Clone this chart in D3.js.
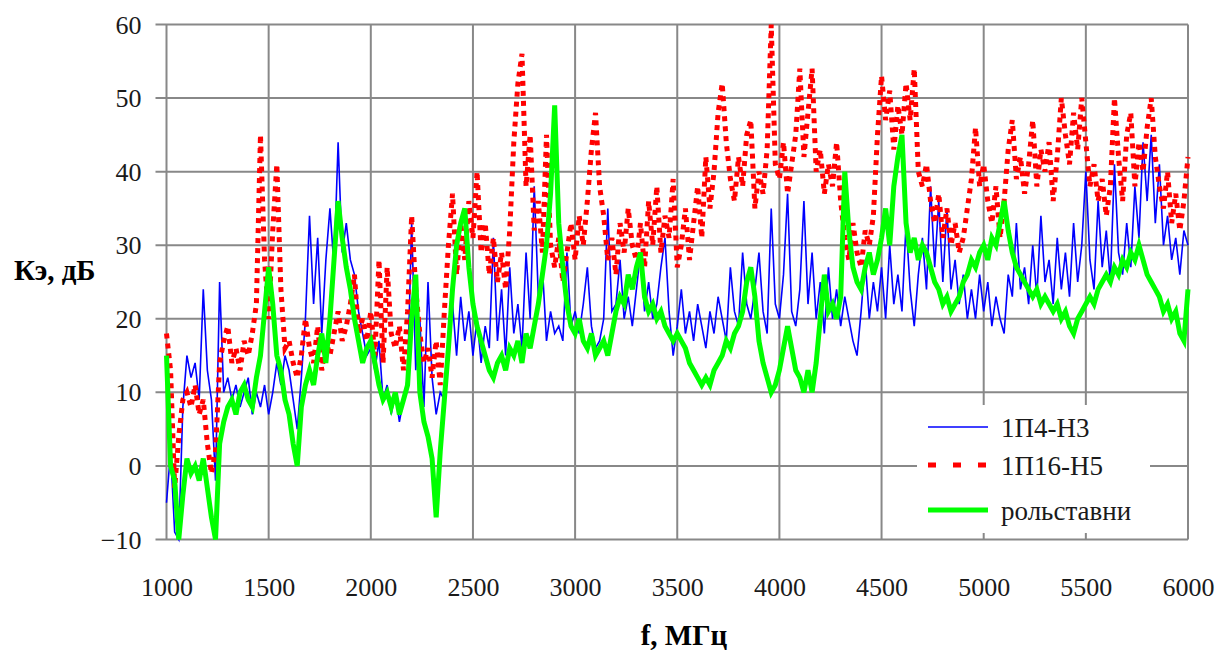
<!DOCTYPE html>
<meta charset="utf-8">
<style>
  body { margin: 0; padding: 0; background: #fff; }
  text { font-family: "Liberation Serif", "Times New Roman", serif; }
  .tick text { font-size: 26px; fill: #1a1a1a; }
  .axis-title { font-size: 29px; font-weight: bold; fill: #000; }
  .legend text { font-size: 27px; fill: #1a1a1a; }
</style>
<script src="https://d3js.org/d3.v7.min.js"></script>
<body>
<div id="chart"></div>
<script>
// frequency grid, MHz (20 MHz step)
var freqs = d3.range(1000, 6001, 20);
var xTicks = [1000, 1500, 2000, 2500, 3000, 3500, 4000, 4500, 5000, 5500, 6000];
var yTicks = [-10, 0, 10, 20, 30, 40, 50, 60];
var names = ["1П4-Н3", "1П16-Н5", "рольставни"];

// Кэ, дБ — 1П4-Н3
var blue = [
  -5, 2, -9, -10, 8,
  15, 12, 14, 9, 24,
  13, 9, -2, 25, 10,
  12, 9, 11, 8, 10,
  12, 7, 10, 8, 11,
  7, 10, 14, 11, 15,
  13, 9, 5, 12, 20,
  34, 22, 31, 18, 28,
  35, 27, 44, 29, 33,
  28, 26, 21, 18, 15,
  16, 13, 17, 9, 11,
  7, 10, 6, 9, 12,
  33, 13, 20, 8, 25,
  12, 7, 10, 9, 18,
  22, 15, 23, 17, 21,
  15, 20, 14, 19, 16,
  31, 17, 24, 15, 27,
  18, 22, 16, 29, 20,
  38, 23, 27, 17, 21,
  18, 19, 17, 29, 19,
  21, 18, 22, 27, 19,
  16, 17, 20, 35, 21,
  22, 28, 20, 23, 19,
  24, 29, 21, 25, 20,
  22, 27, 31, 21, 15,
  19, 24, 18, 21, 17,
  22, 19, 16, 21, 18,
  23, 20, 17, 27, 21,
  19, 29, 22, 20, 24,
  29, 21, 18, 35, 22,
  20, 26, 37, 21, 19,
  24, 36, 22, 29, 20,
  25, 18, 27, 20, 24,
  19, 23, 20, 17, 15,
  21, 28, 20, 25, 21,
  27, 20, 30, 22, 26,
  21, 33, 24, 19, 26,
  31, 24, 38, 27, 36,
  25, 35, 24, 28, 22,
  26, 20, 24, 20, 26,
  21, 25, 19, 23, 20,
  18, 26, 23, 33, 24,
  27, 22, 30, 23, 34,
  25, 28, 22, 31, 24,
  29, 23, 33, 25, 30,
  40, 28, 24, 36, 27,
  32, 25, 41, 29, 26,
  33, 27, 38, 31, 44,
  36, 45, 33, 41, 30,
  34, 28, 31, 26, 32,
  30
];

// Кэ, дБ — 1П16-Н5
var red = [
  18, 13, -3, 4, 9,
  10, 8, 11, 7, 9,
  3, -1, 2, 14, 17,
  19, 14, 16, 13, 17,
  15, 18, 22, 45, 28,
  20, 32, 41, 24, 16,
  17, 14, 12, 15, 20,
  16, 14, 19, 13, 17,
  15, 18, 21, 17, 19,
  22, 26, 18, 20, 17,
  21, 15, 28, 14, 27,
  18, 16, 19, 13, 21,
  34, 24, 18, 14, 16,
  12, 17, 11, 21, 30,
  37, 26, 33, 28, 36,
  31, 40, 29, 33, 26,
  31, 25, 29, 24, 32,
  44, 52, 56, 38, 45,
  32, 36, 29, 45, 30,
  27, 31, 25, 29, 33,
  28, 34, 30, 36, 43,
  48, 38, 34, 28, 31,
  26, 33, 29, 35, 30,
  28, 33, 27, 36, 30,
  38, 29, 34, 31, 39,
  27, 30, 35, 28, 33,
  38, 31, 42, 35, 40,
  48, 52, 44, 39, 36,
  42, 38, 45, 47, 35,
  40, 37, 43, 60, 41,
  39, 44, 37, 41, 45,
  54, 42, 48, 54, 40,
  43, 37, 41, 38, 44,
  36, 31, 28, 33, 29,
  27, 32, 30, 34, 45,
  53, 47, 51, 43, 49,
  45, 52, 47, 54, 40,
  38, 41, 36, 33, 37,
  31, 35, 30, 33, 29,
  31, 35, 39, 46, 38,
  41, 36, 33, 38, 31,
  36, 43, 47, 39, 42,
  37, 41, 47, 38, 43,
  40, 44, 36, 42, 50,
  45, 41, 48, 43, 50,
  44, 38, 41, 36, 39,
  34, 38, 50, 42, 36,
  45, 48, 38, 44, 40,
  46, 50, 42, 38, 35,
  40, 33, 37, 32, 36,
  42
];

// Кэ, дБ — рольставни
var green = [
  15, 0, -2, -10, -4,
  1, -1, 0, -2, 1,
  -3, -7, -10, 3, 6,
  8, 9, 7, 10, 11,
  9, 8, 12, 15, 21,
  27, 22, 15, 13, 9,
  7, 3, 0, 8, 11,
  13, 11, 15, 18, 14,
  20, 28, 36, 31, 27,
  24, 20, 17, 14, 16,
  17, 14, 11, 9, 10,
  8, 10, 7, 9, 11,
  20, 26, 10, 6, 4,
  1, -7, 2, 9, 16,
  24, 30, 33, 35, 27,
  22, 19, 17, 15, 13,
  12, 14, 15, 13, 16,
  15, 17, 14, 18, 16,
  19, 22, 26, 30, 37,
  49, 33, 27, 22, 19,
  18, 20, 17, 16, 18,
  15, 16, 17, 15, 18,
  21, 23, 22, 26, 24,
  27, 29, 23, 21, 22,
  20, 21, 19, 18, 17,
  18, 17, 16, 14, 13,
  12, 11, 12, 11, 13,
  14, 15, 17, 16, 18,
  19, 21, 25, 27, 23,
  17, 14, 12, 10, 11,
  13, 16, 19, 16, 13,
  12, 10, 13, 10, 14,
  20, 26, 21, 22, 20,
  23, 40, 32, 27, 25,
  24, 27, 29, 26, 28,
  31, 35, 30, 38, 42,
  45, 33, 29, 31, 28,
  30, 29, 27, 25, 24,
  22, 23, 21, 22, 23,
  25, 26, 28, 27, 29,
  30, 28, 31, 30, 33,
  36, 32, 29, 27, 26,
  25, 24, 23, 24, 22,
  23, 22, 21, 22, 20,
  21, 19, 18, 20, 21,
  22, 23, 22, 24, 25,
  26, 25, 27, 26, 28,
  27, 29, 28, 30, 28,
  26, 25, 24, 23, 21,
  22, 20, 21, 18, 17,
  24
];

var W = 1218, H = 650;
var x0 = 166.5, x1 = 1188, y0 = 539.5, y1 = 24.5;

var svg = d3.select("#chart").append("svg")
    .attr("width", W)
    .attr("height", H);

var x = d3.scaleLinear().domain([1000, 6000]).range([x0, x1]);
var y = d3.scaleLinear().domain([-10, 60]).range([y0, y1]);

var gridColor = "#888888";

// horizontal grid (with small tick to the left)
svg.append("g").selectAll("line")
  .data(yTicks)
  .enter().append("line")
    .attr("x1", x0 - 11)
    .attr("x2", x1)
    .attr("y1", function(d) { return y(d); })
    .attr("y2", function(d) { return y(d); })
    .attr("stroke", gridColor)
    .attr("stroke-width", 2);

// vertical grid
svg.append("g").selectAll("line")
  .data(xTicks)
  .enter().append("line")
    .attr("x1", function(d) { return x(d); })
    .attr("x2", function(d) { return x(d); })
    .attr("y1", y1)
    .attr("y2", y0)
    .attr("stroke", gridColor)
    .attr("stroke-width", 2);

// axes (labels only)
var yAxis = svg.append("g")
    .attr("transform", "translate(" + (x0 - 22) + ",0)")
    .call(d3.axisLeft(y).tickValues(yTicks).tickSize(0).tickFormat(d3.format("d")));
yAxis.select(".domain").remove();
yAxis.selectAll("text").attr("dy", "0.33em");

var xAxis = svg.append("g")
    .attr("transform", "translate(0," + (y0 + 35) + ")")
    .call(d3.axisBottom(x).tickValues(xTicks).tickSize(0).tickFormat(d3.format("d")));
xAxis.select(".domain").remove();

// series
var line = d3.line()
    .x(function(d, i) { return x(freqs[i]); })
    .y(function(d) { return y(d); });

svg.append("path")
    .datum(blue)
    .attr("d", line)
    .attr("fill", "none")
    .attr("stroke", "#0000ff")
    .attr("stroke-width", 1.6);

svg.append("path")
    .datum(red)
    .attr("d", line)
    .attr("fill", "none")
    .attr("stroke", "#ff0000")
    .attr("stroke-width", 5)
    .attr("stroke-dasharray", "5,5");

svg.append("path")
    .datum(green)
    .attr("d", line)
    .attr("fill", "none")
    .attr("stroke", "#00ff00")
    .attr("stroke-width", 5);

// legend
var legend = svg.append("g").attr("class", "legend");
legend.append("rect")
    .attr("x", 917).attr("y", 405)
    .attr("width", 233).attr("height", 128)
    .attr("fill", "#fff");

var legendStyles = [
  {color: "#0000ff", width: 1.6, dash: null, y: 427},
  {color: "#ff0000", width: 5, dash: "8,17", y: 465},
  {color: "#00ff00", width: 5, dash: null, y: 510}
];
legendStyles.forEach(function(s, i) {
  legend.append("line")
      .attr("x1", 928).attr("x2", 988)
      .attr("y1", s.y).attr("y2", s.y)
      .attr("stroke", s.color)
      .attr("stroke-width", s.width)
      .attr("stroke-dasharray", s.dash);
  legend.append("text")
      .attr("x", 1001)
      .attr("y", s.y + 10)
      .text(names[i]);
});

// axis titles
svg.append("text")
    .attr("class", "axis-title")
    .attr("x", 14)
    .attr("y", 280)
    .text("Кэ, дБ");

svg.append("text")
    .attr("class", "axis-title")
    .attr("x", 684)
    .attr("y", 645)
    .attr("text-anchor", "middle")
    .text("f, МГц");
</script>
</body>
